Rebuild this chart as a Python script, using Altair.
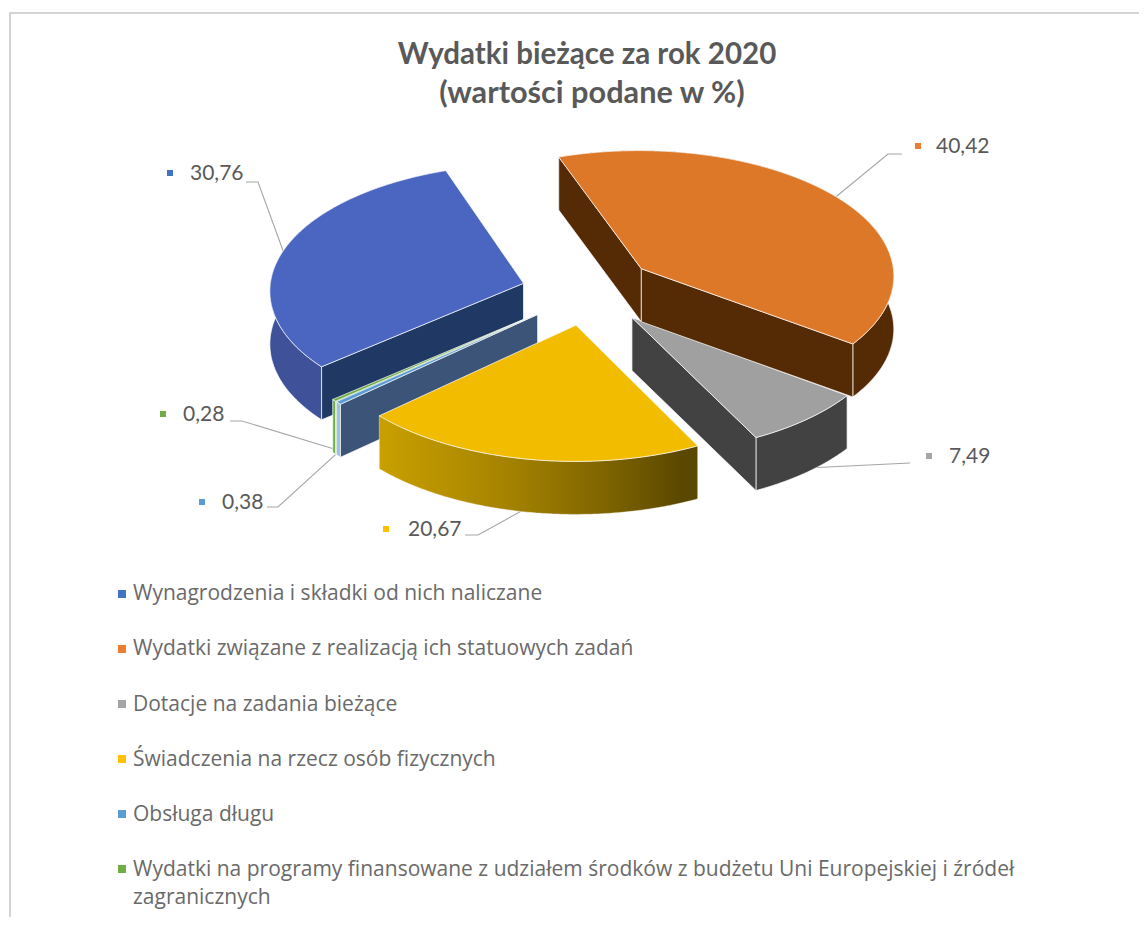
import math
import altair as alt
import pandas as pd

# ---------- data ----------
SERIES = ["Wynagrodzenia i składki od nich naliczane",
          "Wydatki związane z realizacją ich statuowych zadań",
          "Dotacje na zadania bieżące",
          "Świadczenia na rzecz osób fizycznych",
          "Obsługa długu",
          "Wydatki na programy finansowane z udziałem środków z budżetu Uni Europejskiej i źródeł zagranicznych"]
VALUES = [30.76, 40.42, 7.49, 20.67, 0.38, 0.28]
VALUE_LABELS = ["30,76", "40,42", "7,49", "20,67", "0,38", "0,28"]
TITLE_LINES = ["Wydatki bieżące za rok 2020", "(wartości podane w %)"]
LEGEND_LINES = ["Wynagrodzenia i składki od nich naliczane",
                "Wydatki związane z realizacją ich statuowych zadań",
                "Dotacje na zadania bieżące",
                "Świadczenia na rzecz osób fizycznych",
                "Obsługa długu",
                "Wydatki na programy finansowane z udziałem środków z budżetu Uni Europejskiej i źródeł",
                "zagranicznych"]

# ---------- styles ----------
TOP = ["#4a66c0", "#dd7828", "#a0a0a0", "#f2bc00", "#5b9bd5", "#70ad47"]
RIM = ["#3f5299", "#552b06", "#424242", "#c69c00", "#9cc3e6", "#70ad47"]
FACE = ["#203864", "#552b06", "#424242", "#7a6000", "#3b5477", "#5f9440"]
MARK = ["#4472c4", "#ed7d31", "#a5a5a5", "#ffc000", "#5b9bd5", "#70ad47"]

# ---------- projection of the tilted, exploded pie ----------
START_ANGLE = 229.8
CX, CY, RX, RY, PERSP, EXPLODE, DEPTH = 588, 292, 254, 126, 0.05, 0.264, 53
SLICE_LIFT = [0, 3.5, 0, 0, 0, 0]


def project(theta, mid, lift=0.0, r=1.0):
    t, m = math.radians(theta), math.radians(mid)
    xw = EXPLODE * math.sin(m) + r * math.sin(t)
    yw = EXPLODE * math.cos(m) + r * math.cos(t)
    d = 1 + PERSP * yw
    return [CX + RX * xw / d, CY - lift - RY * yw / d]


def down(p):
    return [p[0], p[1] + DEPTH]


def poly(points, fill):
    ring = [list(p) for p in points] + [list(points[0])]
    return {"type": "Feature", "properties": {"fill": fill},
            "geometry": {"type": "Polygon", "coordinates": [ring]}}


def line(points):
    return {"type": "Feature", "properties": {},
            "geometry": {"type": "LineString", "coordinates": points}}


spans, a0 = [], START_ANGLE
for v in VALUES:
    spans.append((a0, a0 + v * 3.6))
    a0 += v * 3.6


def slice_parts(i):
    s, e = spans[i]
    mid = (s + e) / 2
    n = max(2, int((e - s) * 2))
    lift = SLICE_LIFT[i]
    arc = [project(s + (e - s) * j / n, mid, lift) for j in range(n + 1)]
    apex = project(mid, mid, lift, 0.0)
    parts = []
    # a cut face is drawn only when its outward normal points at the viewer
    if math.cos(math.radians(s - 90)) < 0:
        parts.append(poly([apex, arc[0], down(arc[0]), down(apex)], FACE[i]))
    if math.cos(math.radians(e + 90)) < 0:
        parts.append(poly([apex, arc[-1], down(arc[-1]), down(apex)], FACE[i]))
    rim = poly(arc + [down(p) for p in reversed(arc)], RIM[i])
    top = poly([apex] + arc, TOP[i])
    return parts, rim, top


DRAW_ORDER = [0, 5, 4, 2, 1]
features = []
for i in DRAW_ORDER:
    f, r, t = slice_parts(i)
    features.extend([r] + f + [t])
_, y_rim_poly, y_top_poly = slice_parts(3)

# ---------- layout of annotations (image pixels) ----------
PROJ = dict(type="identity", scale=1, translate=[-8, -8])
LABEL_TEXT_X = [190, 936, 949, 408, 222, 183]
LABEL_Y = [172, 145, 455, 528, 501, 413]
LABEL_MARK_X = [170, 918, 929, 386, 202, 163]
TEXT_NUDGE_Y = 2
ELBOWS = [[[258, 182], [246, 182]], [[888, 154], [902, 154]], [[910, 463]],
          [[478, 535], [465, 535]], [[278, 507], [267, 507]], [[242, 421], [230, 421]]]
LEADER_DROP = [0, 0, 1, 1, 1, 1]
LEGEND_Y = [594, 649, 705, 760, 815, 870, 898]
LEGEND_MARK_Y = [594, 649, 704, 759, 814, 869]
LEGEND_MARK_X = 122
LEGEND_TEXT_X = 133
FRAME = [[[10, 928], [10, 13], [1146, 13]]]

leaders = []
for i, el in enumerate(ELBOWS):
    s, e = spans[i]
    mid = (s + e) / 2
    p = project(mid, mid, SLICE_LIFT[i])
    if LEADER_DROP[i]:
        p = [p[0], p[1] + DEPTH * 0.92]
    leaders.append(line([p] + el))


def square(cx, cy, half, fill):
    return poly([[cx - half, cy - half], [cx + half, cy - half],
                 [cx + half, cy + half], [cx - half, cy + half]], fill)


squares = [square(LABEL_MARK_X[i], LABEL_Y[i] + 1, 3, MARK[i]) for i in range(6)]
squares += [square(LEGEND_MARK_X, LEGEND_MARK_Y[i], 4, MARK[i]) for i in range(6)]

frame = alt.Chart(alt.Data(values=[line(FRAME[0])])).mark_geoshape(
    filled=False, stroke="#d4d4d4", strokeWidth=2).project(**PROJ)

pie = alt.Chart(alt.Data(values=features)).mark_geoshape(
    stroke="#ffffff", strokeWidth=0.7).encode(
    fill=alt.Fill("properties.fill:N", scale=None)).project(**PROJ)

grad = alt.Gradient(gradient="linear", x1=0, x2=1, y1=0, y2=0, stops=[
    alt.GradientStop(color="#c9a000", offset=0),
    alt.GradientStop(color="#a58300", offset=0.4),
    alt.GradientStop(color="#806500", offset=0.7),
    alt.GradientStop(color="#5a4800", offset=0.95),
    alt.GradientStop(color="#5a4800", offset=1)])
y_rim = alt.Chart(alt.Data(values=[y_rim_poly])).mark_geoshape(
    fill=grad, stroke="#ffffff", strokeWidth=0.4).project(**PROJ)
y_top = alt.Chart(alt.Data(values=[y_top_poly])).mark_geoshape(
    fill=TOP[3], stroke="#ffffff", strokeWidth=0.7).project(**PROJ)

lead = alt.Chart(alt.Data(values=leaders)).mark_geoshape(
    filled=False, stroke="#a6a6a6", strokeWidth=1.1).project(**PROJ)
marks = alt.Chart(alt.Data(values=squares)).mark_geoshape(strokeWidth=0).encode(
    fill=alt.Fill("properties.fill:N", scale=None)).project(**PROJ)

X = alt.X("x:Q", scale=None, axis=None)
Y = alt.Y("y:Q", scale=None, axis=None)

title_df = pd.DataFrame({"t": TITLE_LINES, "x": [587 - 8, 592 - 8], "y": [55 - 8, 94 - 8],
                         "s": [29.5, 30.7]})
title = alt.Chart(title_df).mark_text(font="Lato", fontWeight="bold",
                                      color="#595959", align="center", baseline="middle").encode(
    x=X, y=Y, text="t:N", size=alt.Size("s:Q", scale=None))

vals_df = pd.DataFrame({"t": VALUE_LABELS, "x": [v - 8 for v in LABEL_TEXT_X],
                        "y": [v - 8 + TEXT_NUDGE_Y for v in LABEL_Y]})
vals = alt.Chart(vals_df).mark_text(font="Lato", fontSize=21, color="#595959",
                                    align="left", baseline="middle").encode(x=X, y=Y, text="t:N")

leg_df = pd.DataFrame({"t": LEGEND_LINES, "x": [LEGEND_TEXT_X - 8] * 7, "y": [v - 8 for v in LEGEND_Y]})
leg = alt.Chart(leg_df).mark_text(font="Open Sans", fontSize=21, color="#6a6a6a",
                                  align="left", baseline="middle").encode(x=X, y=Y, text="t:N")

chart = alt.layer(frame, lead, pie, y_rim, y_top, marks, title, vals, leg).properties(
    width=1131, height=909, padding=0, autosize="none",
    background="#ffffff").configure_view(stroke=None)

chart.save("out.html", embed_options={"renderer": "svg", "actions": False})
